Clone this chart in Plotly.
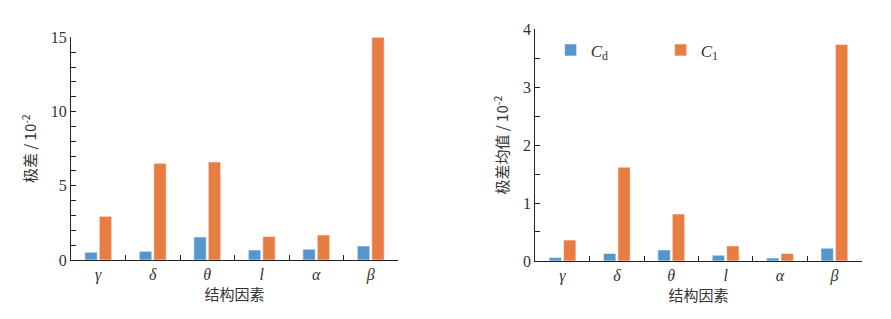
import plotly.graph_objects as go

categories = ["γ", "δ", "θ", "l", "α", "β"]
range_cd = [0.52, 0.58, 1.55, 0.67, 0.72, 0.94]
range_c1 = [2.94, 6.51, 6.60, 1.59, 1.68, 15.0]
mean_cd = [0.058, 0.13, 0.19, 0.10, 0.05, 0.22]
mean_c1 = [0.36, 1.62, 0.81, 0.26, 0.13, 3.74]

BLUE = "#5596CE"
ORANGE = "#E87D43"
SERIF = "Times New Roman, Liberation Serif, DejaVu Serif, serif"
CJK = "Noto Sans CJK SC"
EDGE = dict(color="rgba(255,255,255,0.55)", width=1)

fig = go.Figure()
fig.add_bar(x=categories, y=range_cd, marker=dict(color=BLUE, line=EDGE),
            name="<i>C</i><sub>d</sub>", showlegend=True, legendgroup="cd",
            xaxis="x", yaxis="y")
fig.add_bar(x=categories, y=range_c1, marker=dict(color=ORANGE, line=EDGE),
            name="<i>C</i><sub>1</sub>", showlegend=True, legendgroup="c1",
            xaxis="x", yaxis="y")
fig.add_bar(x=categories, y=mean_cd, marker=dict(color=BLUE, line=EDGE),
            name="<i>C</i><sub>d</sub>", showlegend=False, legendgroup="cd",
            xaxis="x2", yaxis="y2")
fig.add_bar(x=categories, y=mean_c1, marker=dict(color=ORANGE, line=EDGE),
            name="<i>C</i><sub>1</sub>", showlegend=False, legendgroup="c1",
            xaxis="x2", yaxis="y2")

ticktext = ["<i>%s</i>" % c for c in categories]

xcommon = dict(
    type="category", range=[-0.5, 5.5], tickvals=categories, ticktext=ticktext,
    tickson="boundaries", ticks="inside", ticklen=5, tickcolor="#222",
    showline=True, linecolor="#222", linewidth=1.2, showgrid=False, automargin=False,
    tickfont=dict(family=SERIF, size=16, color="#333"), fixedrange=True,
)
ycommon = dict(
    ticks="inside", ticklen=5, tickcolor="#222", showline=True, linecolor="#222",
    linewidth=1.2, showgrid=False, zeroline=False, automargin=False,
    tickfont=dict(family=SERIF, size=16, color="#333"),
)

fig.update_layout(
    template="none",
    font=dict(family=SERIF, color="#333"),
    width=891, height=319,
    margin=dict(l=0, r=0, t=0, b=0, autoexpand=False),
    paper_bgcolor="white", plot_bgcolor="white",
    barmode="group", bargap=0.47, bargroupgap=0.14,
    xaxis=dict(domain=[0.0797, 0.4467], anchor="y",
               title=dict(text="结构因素", font=dict(family=CJK, size=15, color="#333"), standoff=4),
               **xcommon),
    yaxis=dict(domain=[0.185, 0.883], anchor="x", range=[0, 15], dtick=5,
               minor=dict(dtick=1, ticks="inside", ticklen=5, tickcolor="#222"),
               title=dict(text="极差 / 10<sup>-2</sup>", font=dict(family=CJK, size=15, color="#333"), standoff=10),
               **ycommon),
    xaxis2=dict(domain=[0.6008, 0.967], anchor="y2",
                title=dict(text="结构因素", font=dict(family=CJK, size=15, color="#333"), standoff=6),
                **xcommon),
    yaxis2=dict(domain=[0.182, 0.908], anchor="x2", range=[0, 4], dtick=1,
                minor=dict(dtick=0.5, ticks="inside", ticklen=5, tickcolor="#222"),
                title=dict(text="极差均值 / 10<sup>-2</sup>", font=dict(family=CJK, size=15, color="#333"), standoff=10),
                **ycommon),
    legend=dict(orientation="h", x=0.618, y=0.842, xanchor="left", yanchor="middle",
                bgcolor="rgba(0,0,0,0)", itemwidth=30, entrywidth=65, entrywidthmode="pixels",
                font=dict(family=SERIF, size=17, color="#333"), tracegroupgap=0),
)

fig.write_html("out.html")
